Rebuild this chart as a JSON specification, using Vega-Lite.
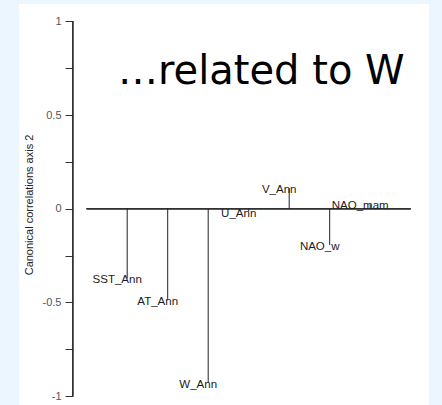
{
  "$schema": "https://vega.github.io/schema/vega-lite/v6.json",
  "width": 410,
  "height": 401,
  "autosize": {"type": "none"},
  "padding": {"left": 19, "top": 4, "right": 13, "bottom": 0},
  "background": "#ECF6FE",
  "config": {"view": {"fill": "white", "stroke": null}},
  "title": {
    "text": "…related to W",
    "anchor": "start",
    "frame": "group",
    "font": "DejaVu Sans",
    "fontSize": 40,
    "fontWeight": "normal",
    "color": "#000000",
    "baseline": "alphabetic",
    "offset": 0,
    "dx": 99,
    "dy": 120
  },
  "data": {
    "values": [
      {"name": "SST_Ann", "idx": 1, "value": -0.372},
      {"name": "AT_Ann", "idx": 2, "value": -0.485},
      {"name": "W_Ann", "idx": 3, "value": -0.93},
      {"name": "U_Ann", "idx": 4, "value": -0.015},
      {"name": "V_Ann", "idx": 5, "value": 0.109},
      {"name": "NAO_w", "idx": 6, "value": -0.194},
      {"name": "NAO_mam", "idx": 7, "value": 0.024}
    ]
  },
  "layer": [
    {
      "mark": {"type": "rule", "color": "#333333", "strokeWidth": 1},
      "encoding": {
        "x": {"datum": 0, "type": "quantitative", "scale": {"domain": [-1.6716, 8.4519], "nice": false, "zero": false}, "axis": null},
        "x2": {"datum": 8},
        "y": {"datum": 0, "type": "quantitative", "scale": {"domain": [-1.048, 1.0929], "nice": false, "zero": false},
          "axis": {
            "orient": "left",
            "offset": -54,
            "domain": false,
            "grid": false,
            "values": [-1, -0.75, -0.5, -0.25, 0, 0.25, 0.5, 0.75, 1],
            "labelExpr": "indexof([-1,-0.5,0,0.5,1], datum.value) >= 0 ? toString(datum.value) : ''",
            "tickSize": 8,
            "tickColor": "#333333",
            "labelFont": "Liberation Sans",
            "labelFontSize": 11,
            "labelColor": "#555555",
            "labelPadding": 4,
            "title": "Canonical correlations axis 2",
            "titleFont": "Liberation Sans",
            "titleFontSize": 11,
            "titleFontWeight": "normal",
            "titleColor": "#222222",
            "titlePadding": 8
          }
        }
      }
    },
    {
      "mark": {"type": "rule", "color": "#333333", "strokeWidth": 1},
      "encoding": {
        "x": {"datum": -0.346, "type": "quantitative"},
        "y": {"datum": -1, "type": "quantitative"},
        "y2": {"datum": 1}
      }
    },
    {
      "mark": {"type": "rule", "color": "#222222", "strokeWidth": 1},
      "encoding": {
        "x": {"field": "idx", "type": "quantitative"},
        "y": {"field": "value", "type": "quantitative"},
        "y2": {"datum": 0}
      }
    },
    {
      "mark": {"type": "text", "font": "Liberation Sans", "fontSize": 11.5, "color": "#1a1a1a", "align": "center", "baseline": "middle", "dx": -10, "dy": 2},
      "encoding": {
        "x": {"field": "idx", "type": "quantitative"},
        "y": {"field": "value", "type": "quantitative"},
        "text": {"field": "name"}
      }
    }
  ]
}
